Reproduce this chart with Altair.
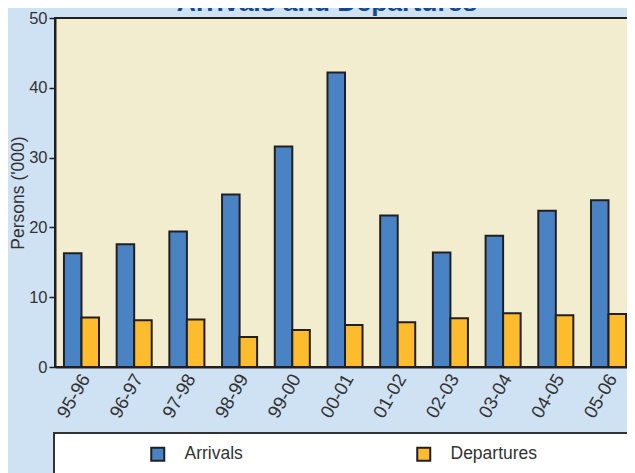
import altair as alt
import pandas as pd

periods = ["95-96", "96-97", "97-98", "98-99", "99-00", "00-01",
           "01-02", "02-03", "03-04", "04-05", "05-06"]
arrivals = [16.3, 17.6, 19.4, 24.7, 31.6, 42.2, 21.7, 16.4, 18.8, 22.4, 23.9]
departures = [7.1, 6.7, 6.8, 4.3, 5.3, 6.0, 6.4, 7.0, 7.7, 7.4, 7.6]
series = ["Arrivals", "Departures"]
colors = ["#4A83C4", "#FDBB2E"]

rows = []
for p, a, d in zip(periods, arrivals, departures):
    rows.append({"period": p, "series": series[0], "value": a})
    rows.append({"period": p, "series": series[1], "value": d})
df = pd.DataFrame(rows)

bars = alt.Chart(df).mark_bar(stroke="#231F20", strokeWidth=2).encode(
    x=alt.X("period:N", sort=periods, title=None,
            scale=alt.Scale(paddingInner=0.335, paddingOuter=0.17),
            axis=alt.Axis(labelAngle=-60, labelFontSize=18.5, labelColor="#333333",
                          ticks=False, labelPadding=8, labelOffset=4,
                          domainColor="#231F20", domainWidth=2)),
    xOffset=alt.XOffset("series:N", sort=series, scale=alt.Scale(paddingInner=0, paddingOuter=0)),
    y=alt.Y("value:Q", title="Persons ('000)",
            scale=alt.Scale(domain=[0, 50], nice=False),
            axis=alt.Axis(values=[0, 10, 20, 30, 40, 50], grid=False,
                          labelFontSize=16.5, labelColor="#333333",
                          titleFontSize=17.5, titleFontWeight="normal",
                          titleColor="#333333", titlePadding=1,
                          tickSize=6, tickColor="#231F20", tickWidth=1.5,
                          labelPadding=2, domainColor="#231F20", domainWidth=2)),
    color=alt.Color("series:N", sort=series,
                    scale=alt.Scale(domain=series, range=colors),
                    legend=alt.Legend(orient="none", legendX=94, legendY=427,
                                      direction="horizontal", columns=2,
                                      title=None, symbolType="square",
                                      symbolSize=169, symbolStrokeColor="#231F20",
                                      symbolStrokeWidth=2, symbolOpacity=1,
                                      labelFontSize=17.5, labelColor="#333333",
                                      labelOffset=18, columnPadding=170,
                                      padding=0)),
)

box = alt.Chart(pd.DataFrame({"k": [0]})).mark_rect(
    fill="white", stroke="#333333", strokeWidth=2
).encode(
    x=alt.value(-1), x2=alt.value(700), y=alt.value(415), y2=alt.value(520)
)

chart = alt.layer(box, bars).properties(
    width=580,
    height=349,
    padding={"left": 47, "top": 10, "right": -8, "bottom": 106},
    autosize=alt.AutoSizeParams(type="none"),
    background="#CFE2F3",
    title=alt.TitleParams("Arrivals and Departures", fontSize=26.5, fontWeight="bold",
                          color="#144A8A", anchor="middle", dx=-18, offset=-6),
).configure_view(
    fill="#F3EDCF", stroke="#231F20", strokeWidth=2
)

chart.save("out.html", embed_options={"renderer": "svg", "actions": False})
